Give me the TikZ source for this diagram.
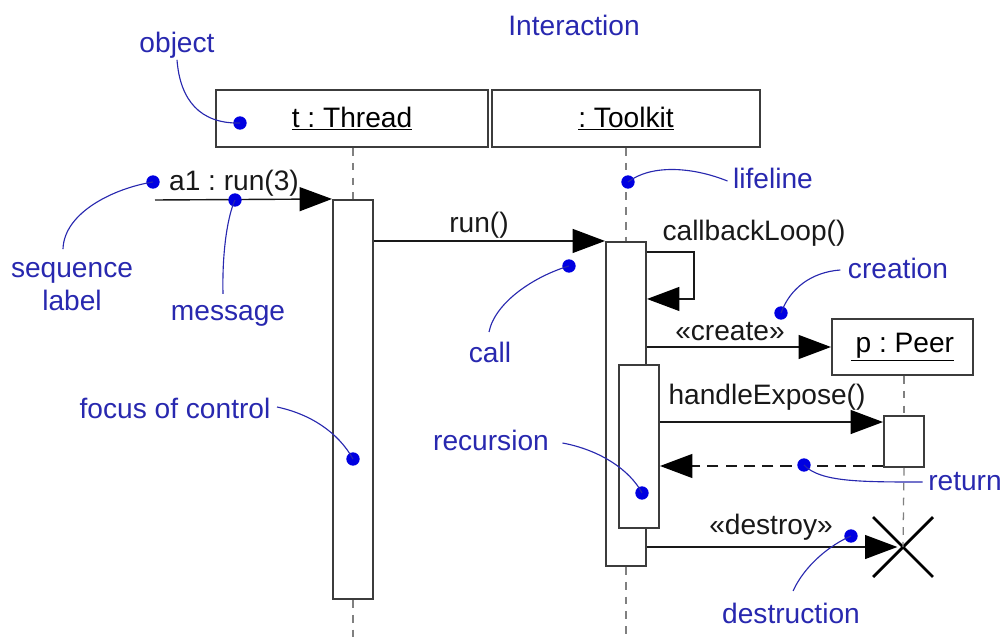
\documentclass[tikz,border=0pt]{standalone}
\usepackage{fontspec}
\setmainfont{Liberation Sans}
\usetikzlibrary{arrows.meta,calc,shapes.misc}
\definecolor{annblue}{RGB}{40,40,175}
\definecolor{dotblue}{RGB}{0,0,225}
\definecolor{linegray}{RGB}{60,60,60}
\frenchspacing
\begin{document}
\begin{tikzpicture}[x=0.025cm, y=-0.025cm,
  font=\fontsize{20}{23.5}\selectfont,
  box/.style={draw=linegray, line width=1.4pt, inner sep=0pt, fill=white},
  lifeline/.style={draw=gray, line width=0.9pt, dash pattern=on 5.5pt off 5pt},
  msg/.style={draw=black!90, line width=1pt, -{Triangle[length=23pt,width=17pt,fill=black,color=black]}},
  ret/.style={msg, dash pattern=on 8pt off 5pt},
  lbl/.style={text=black!90, inner sep=1pt},
  ann/.style={text=annblue, inner sep=1pt},
  lead/.style={draw=annblue, line width=0.8pt},
  dot/.style={circle, fill=dotblue, inner sep=0pt, minimum size=9.5pt}]
\useasboundingbox (0,0) rectangle (1006,637);

% objects
\node[box, minimum width=6.8cm, minimum height=1.425cm] (thread) at (352,118.5) {\underline{t : Thread}};
\node[box, minimum width=6.7cm, minimum height=1.425cm] (toolkit) at (626,118.5) {\underline{: Toolkit}};
\node[box, minimum width=3.525cm, minimum height=1.4cm] (peer) at (902.5,347) {\underline{\,p : Peer}};

% activations
\node[box, minimum width=1cm, minimum height=9.975cm] (tact) at (353,399.5) {};
\node[box, minimum width=1cm, minimum height=8.1cm] (kact) at (626,404) {};
\node[box, minimum width=1cm, minimum height=4.075cm] (rec) at (639,446.5) {};
\node[box, minimum width=1cm, minimum height=1.275cm] (pact) at (904,441.5) {};
\node[cross out, draw=black, line width=2pt, inner sep=0pt, minimum size=1.425cm] (X) at (903,547) {};

% lifeline ends
\coordinate (tend) at (353,637);
\coordinate (kend) at (626,637);

% lifelines
\draw[lifeline] (tact.north |- thread.south) -- (tact.north);
\draw[lifeline] (tact.south) -- (tend);
\draw[lifeline] (kact.north |- toolkit.south) -- (kact.north);
\draw[lifeline] (kact.south) -- (kend);
\draw[lifeline] (pact.north |- peer.south) -- (pact.north);
\draw[lifeline] (pact.south) -- (X.center);

% messages
\coordinate (a1s) at (155,200);
\draw[msg] (a1s) -- (tact.north west);
\node[lbl] (a1l) at (234,183) {a1 : run(3)};

\draw[msg] (tact.east |- kact.north) -- (kact.north west);
\node[lbl] (runl) at (479,225) {run()};

\coordinate (cb1) at ($(kact.north east)+(0,11)$);
\coordinate (cb2) at ($(kact.north east)+(0,58)$);
\draw[msg] (cb1) -- ++(47,0) |- (cb2);
\node[lbl] (cbl) at (754,233) {callbackLoop()};

\draw[msg] (kact.east |- peer.west) -- (peer.west);
\node[lbl] (crl) at (730,332) {«create»};

\coordinate (he) at ($(pact.north west)+(0,7)$);
\draw[msg] (rec.east |- he) -- (he);
\node[lbl] (hel) at (767,397) {handleExpose()};

\coordinate (rt) at ($(pact.south west)+(0,-2)$);
\draw[ret] (rt) -- (rec.east |- rt);

\draw[msg, shorten >=4pt] (kact.east |- X.center) -- (X.center);
\node[lbl] (dsl) at (771,527) {«destroy»};

% annotations
\node[ann] (inter) at (574,25) {Interaction};
\node[ann] (objt) at (177,45) {object};
\node[ann, align=center] (seqt) at (72,287) {sequence\\label};
\node[ann] (msgt) at (228,316) {message};
\node[ann] (foct) at (175,408) {focus of control};
\node[ann] (callt) at (490,352) {call};
\node[ann] (lifet) at (773,178) {lifeline};
\node[ann] (creat) at (898,268) {creation};
\node[ann] (rect) at (491,440) {recursion};
\node[ann] (rett) at (965,482) {return};
\node[ann] (dest) at (791,613) {destruction};

\node[dot] (dobj) at (240,123) {};
\node[dot] (dseq) at (153,182) {};
\node[dot] (dmsg) at (235,200) {};
\node[dot] (dfoc) at (353,459) {};
\node[dot] (dcall) at (569,266) {};
\node[dot] (dlife) at (628,182) {};
\node[dot] (dcrea) at (781,313) {};
\node[dot] (drec) at (642,493) {};
\node[dot] (dret) at (804,465) {};
\node[dot] (ddes) at (851,536) {};

\draw[lead] (objt.south) .. controls (180,100) and (200,124) .. (dobj.center);
\draw[lead] ($(seqt.north)+(-9,-12)$) .. controls (64,212) and (115,188) .. (dseq.center);
\draw[lead] ($(msgt.north)+(-5,-10)$) .. controls (222,250) and (228,215) .. (dmsg.center);
\draw[lead] ($(foct.east)+(5,-1)$) .. controls (310,414) and (338,432) .. (dfoc.center);
\draw[lead] ($(callt.north)+(-1,-8)$) .. controls (495,302) and (535,276) .. (dcall.center);
\draw[lead] ($(lifet.west)+(-4,3)$) .. controls (690,166) and (650,165) .. (dlife.center);
\draw[lead] ($(creat.west)+(-6,2)$) .. controls (812,272) and (790,288) .. (dcrea.center);
\draw[lead] ($(rect.east)+(12,3)$) .. controls (600,450) and (630,470) .. (drec.center);
\draw[lead] (dret.center) .. controls (820,482) and (860,482) .. ($(rett.west)+(-4,0)$);
\draw[lead] ($(dest.north)+(2,-10)$) .. controls (805,565) and (830,545) .. (ddes.center);
\end{tikzpicture}
\end{document}
